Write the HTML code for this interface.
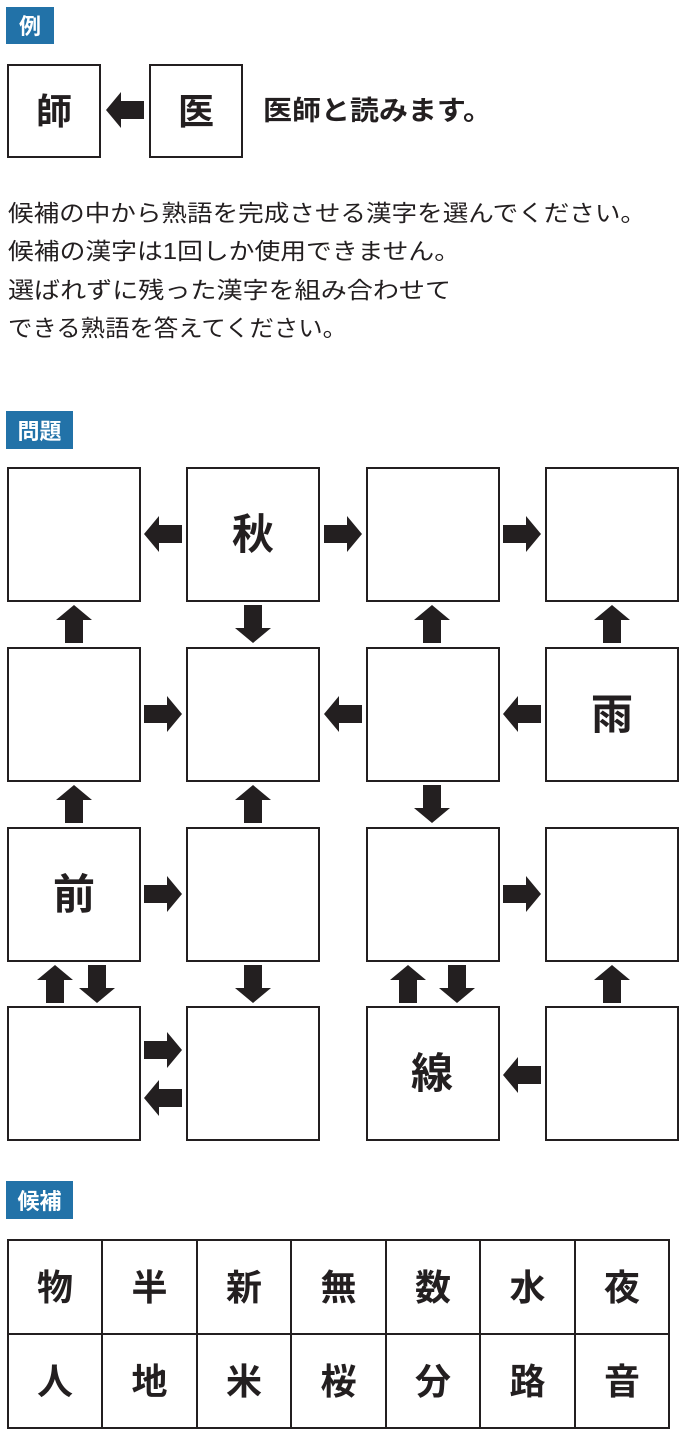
<!DOCTYPE html>
<html><head><meta charset="utf-8"><style>
html,body{margin:0;padding:0;background:#fff;}
svg{display:block}
text{font-family:"Liberation Sans","Noto Sans CJK JP",sans-serif;}
</style></head><body>
<svg width="686" height="1444" viewBox="0 0 686 1444" xmlns="http://www.w3.org/2000/svg">
<defs>
<polygon id="ar" points="-19,-9 4,-9 4,-18 19,0 4,18 4,9 -19,9" fill="#231f20"/>
</defs>
<rect x="6" y="7" width="48" height="37" fill="#2272a8"/>
<text x="30" y="34" font-size="22" font-weight="bold" fill="#fff" text-anchor="middle">例</text>
<rect x="6" y="411" width="67" height="38" fill="#2272a8"/>
<text x="39.5" y="439" font-size="22" font-weight="bold" fill="#fff" text-anchor="middle">問題</text>
<rect x="6" y="1181" width="67" height="38" fill="#2272a8"/>
<text x="39.5" y="1209" font-size="22" font-weight="bold" fill="#fff" text-anchor="middle">候補</text>

<g fill="none" stroke="#231f20" stroke-width="2">
<rect x="8" y="65" width="92" height="92"/>
<rect x="150" y="65" width="92" height="92"/>
</g>
<text x="54" y="124" font-size="36" font-weight="bold" text-anchor="middle" fill="#231f20">師</text>
<text x="196" y="124" font-size="36" font-weight="bold" text-anchor="middle" fill="#231f20">医</text>
<use href="#ar" transform="translate(125,110) scale(-1,1)"/>
<text x="263" y="120" font-size="27" font-weight="bold" fill="#231f20" textLength="229" lengthAdjust="spacingAndGlyphs">医師と読みます。</text>

<g font-size="23" fill="#231f20">
<text x="8" y="221" textLength="638" lengthAdjust="spacingAndGlyphs">候補の中から熟語を完成させる漢字を選んでください。</text>
<text x="8" y="259" textLength="452" lengthAdjust="spacingAndGlyphs">候補の漢字は1回しか使用できません。</text>
<text x="8" y="298" textLength="443" lengthAdjust="spacingAndGlyphs">選ばれずに残った漢字を組み合わせて</text>
<text x="8" y="336" textLength="339" lengthAdjust="spacingAndGlyphs">できる熟語を答えてください。</text>
</g>

<g fill="none" stroke="#231f20" stroke-width="2">
<rect x="8" y="468" width="132" height="133"/><rect x="187" y="468" width="132" height="133"/><rect x="367" y="468" width="132" height="133"/><rect x="546" y="468" width="132" height="133"/>
<rect x="8" y="648" width="132" height="133"/><rect x="187" y="648" width="132" height="133"/><rect x="367" y="648" width="132" height="133"/><rect x="546" y="648" width="132" height="133"/>
<rect x="8" y="828" width="132" height="133"/><rect x="187" y="828" width="132" height="133"/><rect x="367" y="828" width="132" height="133"/><rect x="546" y="828" width="132" height="133"/>
<rect x="8" y="1007" width="132" height="133"/><rect x="187" y="1007" width="132" height="133"/><rect x="367" y="1007" width="132" height="133"/><rect x="546" y="1007" width="132" height="133"/>
</g>
<g font-size="42" font-weight="bold" text-anchor="middle" fill="#231f20">
<text x="253" y="549">秋</text>
<text x="612" y="729">雨</text>
<text x="74" y="909">前</text>
<text x="432" y="1088">線</text>
</g>

<use href="#ar" transform="translate(163,534) scale(-1,1)"/>
<use href="#ar" transform="translate(343,534)"/>
<use href="#ar" transform="translate(522,534)"/>

<use href="#ar" transform="translate(74,624) rotate(-90)"/>
<use href="#ar" transform="translate(253,624) rotate(90)"/>
<use href="#ar" transform="translate(432,624) rotate(-90)"/>
<use href="#ar" transform="translate(612,624) rotate(-90)"/>

<use href="#ar" transform="translate(163,714)"/>
<use href="#ar" transform="translate(343,714) scale(-1,1)"/>
<use href="#ar" transform="translate(522,714) scale(-1,1)"/>

<use href="#ar" transform="translate(74,804) rotate(-90)"/>
<use href="#ar" transform="translate(253,804) rotate(-90)"/>
<use href="#ar" transform="translate(432,804) rotate(90)"/>

<use href="#ar" transform="translate(163,894)"/>
<use href="#ar" transform="translate(522,894)"/>

<use href="#ar" transform="translate(55,984) rotate(-90)"/>
<use href="#ar" transform="translate(97,984) rotate(90)"/>
<use href="#ar" transform="translate(253,984) rotate(90)"/>
<use href="#ar" transform="translate(408,984) rotate(-90)"/>
<use href="#ar" transform="translate(457,984) rotate(90)"/>
<use href="#ar" transform="translate(612,984) rotate(-90)"/>

<use href="#ar" transform="translate(163,1050)"/>
<use href="#ar" transform="translate(163,1098) scale(-1,1)"/>
<use href="#ar" transform="translate(522,1075) scale(-1,1)"/>

<g fill="none" stroke="#231f20" stroke-width="2">
<rect x="8" y="1240" width="661" height="188"/>
<line x1="8" y1="1334" x2="669" y2="1334"/>
<line x1="102" y1="1240" x2="102" y2="1428"/>
<line x1="197" y1="1240" x2="197" y2="1428"/>
<line x1="291" y1="1240" x2="291" y2="1428"/>
<line x1="386" y1="1240" x2="386" y2="1428"/>
<line x1="480" y1="1240" x2="480" y2="1428"/>
<line x1="575" y1="1240" x2="575" y2="1428"/>
</g>
<g font-size="36" font-weight="bold" text-anchor="middle" fill="#231f20">
<text x="55" y="1300">物</text><text x="149.5" y="1300">半</text><text x="244" y="1300">新</text><text x="338.5" y="1300">無</text><text x="433" y="1300">数</text><text x="527.5" y="1300">水</text><text x="622" y="1300">夜</text>
<text x="55" y="1394">人</text><text x="149.5" y="1394">地</text><text x="244" y="1394">米</text><text x="338.5" y="1394">桜</text><text x="433" y="1394">分</text><text x="527.5" y="1394">路</text><text x="622" y="1394">音</text>
</g>
</svg>
</body></html>
